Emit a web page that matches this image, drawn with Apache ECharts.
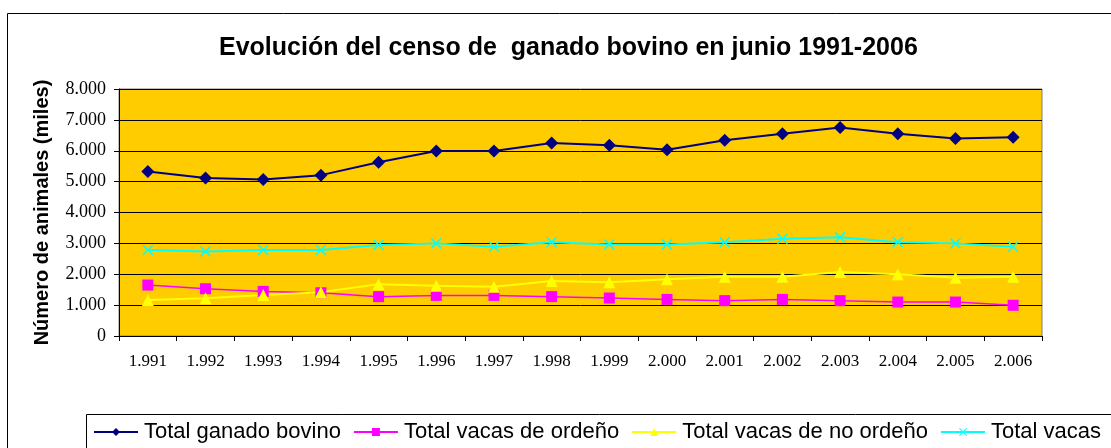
<!DOCTYPE html>
<html>
<head>
<meta charset="utf-8">
<script src="https://cdn.jsdelivr.net/npm/echarts@6/dist/echarts.min.js"></script>
<style>
html, body { margin: 0; padding: 0; background: #fff; }
#chart { width: 1111px; height: 448px; }
</style>
</head>
<body>
<div id="chart"></div>
<script>
// data (miles de animales)
var years = ['1.991', '1.992', '1.993', '1.994', '1.995', '1.996', '1.997', '1.998',
             '1.999', '2.000', '2.001', '2.002', '2.003', '2.004', '2.005', '2.006'];
var ganadoBovino = [5330, 5120, 5070, 5210, 5630, 5990, 5990, 6250, 6180, 6030, 6340, 6550, 6750, 6550, 6400, 6440];
var vacasOrdeno = [1650, 1530, 1445, 1400, 1275, 1315, 1315, 1275, 1230, 1185, 1145, 1185, 1145, 1100, 1100, 995];
var vacasNoOrdeno = [1165, 1220, 1325, 1415, 1680, 1630, 1595, 1780, 1740, 1835, 1920, 1920, 2070, 2000, 1890, 1920];
var totalVacas = [2785, 2740, 2785, 2785, 2945, 3000, 2890, 3040, 2965, 2965, 3040, 3150, 3195, 3040, 3000, 2890];
var seriesNames = ['Total ganado bovino', 'Total vacas de ordeño', 'Total vacas de no ordeño', 'Total vacas'];

var xMark = 'path://M0,1L1,0L5,4L9,0L10,1L6,5L10,9L9,10L5,6L1,10L0,9L4,5Z';

function miles(v) {
    var s = String(v);
    if (s.length > 3) {
        s = s.slice(0, s.length - 3) + '.' + s.slice(s.length - 3);
    }
    return s;
}

function make_series(name, data, color, symbol, size, width) {
    return {
        name: name,
        type: 'line',
        data: data,
        symbol: symbol,
        symbolSize: size,
        showAllSymbol: true,
        animation: false,
        lineStyle: { color: color, width: width },
        itemStyle: { color: color, borderWidth: 0 }
    };
}

var myChart = echarts.init(document.getElementById('chart'), null, { renderer: 'canvas' });

var option = {
    animation: false,
    backgroundColor: '#ffffff',
    title: {
        text: 'Evolución del censo de  ganado bovino en junio 1991-2006',
        left: 219,
        top: 36,
        padding: 0,
        textStyle: {
            fontFamily: 'Liberation Sans',
            fontWeight: 'bold',
            fontSize: 25,
            color: '#000'
        }
    },
    graphic: [
        {
            type: 'rect',
            shape: { x: 7.5, y: 13.5, width: 1200, height: 500 },
            style: { fill: 'none', stroke: '#000', lineWidth: 1 },
            z: -1
        },
        {
            type: 'rect',
            shape: { x: 86.5, y: 414.5, width: 1100, height: 100 },
            style: { fill: 'none', stroke: '#000', lineWidth: 1 },
            z: -1
        }
    ],
    legend: {
        data: seriesNames,
        left: 93,
        top: 421,
        padding: 0,
        itemWidth: 44,
        itemHeight: 10,
        itemGap: 12,
        textStyle: {
            fontFamily: 'Liberation Sans',
            fontSize: 22,
            color: '#000',
            padding: [0, 0, 0, 1]
        }
    },
    grid: {
        left: 119,
        top: 89,
        width: 923,
        height: 247,
        show: true,
        backgroundColor: '#FFCC00',
        borderColor: '#808080',
        borderWidth: 1
    },
    xAxis: {
        type: 'category',
        data: years,
        boundaryGap: true,
        axisLine: { lineStyle: { color: '#000', width: 1 } },
        axisTick: { show: true, length: 5, lineStyle: { color: '#000' } },
        axisLabel: {
            fontFamily: 'Liberation Serif',
            fontSize: 17,
            color: '#000',
            margin: 17
        }
    },
    yAxis: {
        type: 'value',
        min: 0,
        max: 8000,
        interval: 1000,
        name: 'Número de animales (miles)',
        nameLocation: 'middle',
        nameRotate: 90,
        nameGap: 67,
        nameTextStyle: {
            fontFamily: 'Liberation Sans',
            fontWeight: 'bold',
            fontSize: 20,
            color: '#000'
        },
        axisLine: { show: true, lineStyle: { color: '#000', width: 1 } },
        axisTick: { show: true, length: 5, lineStyle: { color: '#000' } },
        splitLine: { show: true, lineStyle: { color: '#000', width: 1 } },
        axisLabel: {
            fontFamily: 'Liberation Serif',
            fontSize: 18,
            color: '#000',
            margin: 13,
            formatter: miles
        }
    },
    series: [
        make_series(seriesNames[0], ganadoBovino, '#000080', 'diamond', [13, 13], 2),
        make_series(seriesNames[1], vacasOrdeno, '#FF00FF', 'rect', 11, 1.5),
        make_series(seriesNames[2], vacasNoOrdeno, '#FFFF00', 'triangle', 12, 2),
        make_series(seriesNames[3], totalVacas, '#00FFFF', xMark, 11, 2)
    ]
};

myChart.setOption(option);
</script>
</body>
</html>
